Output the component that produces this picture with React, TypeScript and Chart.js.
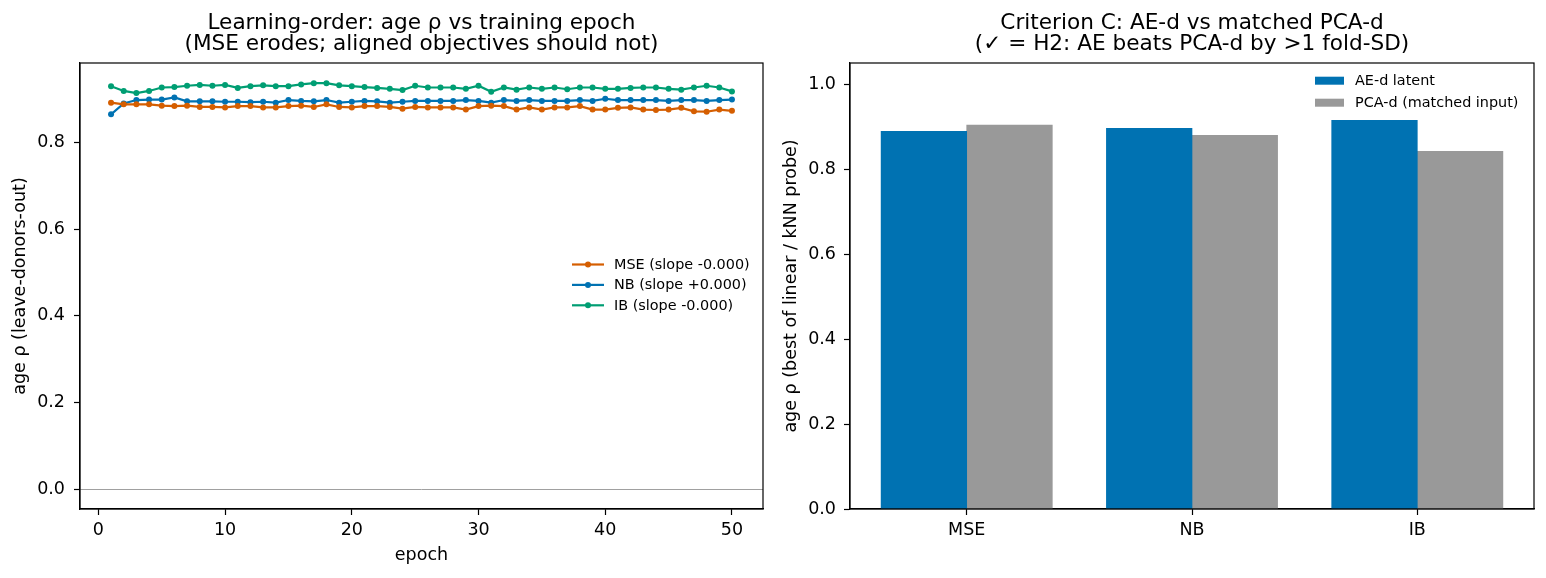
import React, { useEffect, useRef } from "react";
import { Chart, registerables } from "chart.js";

Chart.register(...registerables);

const FONT = "'DejaVu Sans', 'Noto Sans', sans-serif";

// ---------- Left panel data ----------
const epochs = [
  1, 2, 3, 4, 5, 6, 7, 8, 9, 10, 11, 12, 13, 14, 15, 16, 17, 18, 19, 20, 21, 22, 23, 24, 25,
  26, 27, 28, 29, 30, 31, 32, 33, 34, 35, 36, 37, 38, 39, 40, 41, 42, 43, 44, 45, 46, 47, 48, 49, 50,
];
const mseRho = [
  0.893, 0.889, 0.889, 0.889, 0.886, 0.885, 0.886, 0.883, 0.883, 0.882, 0.885, 0.885, 0.882, 0.882, 0.885,
  0.886, 0.883, 0.889, 0.883, 0.882, 0.885, 0.885, 0.883, 0.879, 0.883,
  0.882, 0.882, 0.882, 0.877, 0.885, 0.886, 0.885, 0.877, 0.882, 0.877, 0.882, 0.882, 0.885, 0.877, 0.877,
  0.881, 0.882, 0.877, 0.876, 0.877, 0.881, 0.873, 0.872, 0.877, 0.874,
];
const nbRho = [
  0.866, 0.891, 0.899, 0.9, 0.9, 0.905, 0.896, 0.896, 0.896, 0.895, 0.895, 0.894, 0.895, 0.893, 0.899,
  0.897, 0.896, 0.899, 0.893, 0.895, 0.897, 0.896, 0.893, 0.895, 0.897,
  0.897, 0.897, 0.897, 0.899, 0.897, 0.893, 0.899, 0.897, 0.899, 0.897, 0.897, 0.897, 0.899, 0.897, 0.902,
  0.899, 0.899, 0.899, 0.899, 0.897, 0.899, 0.899, 0.897, 0.899, 0.9,
];
const ibRho = [
  0.931, 0.92, 0.915, 0.92, 0.928, 0.929, 0.932, 0.934, 0.932, 0.934, 0.927, 0.931, 0.933, 0.931, 0.931,
  0.935, 0.938, 0.938, 0.933, 0.931, 0.929, 0.927, 0.925, 0.922, 0.932,
  0.928, 0.928, 0.928, 0.925, 0.932, 0.918, 0.928, 0.923, 0.928, 0.925, 0.928, 0.924, 0.928, 0.928, 0.925,
  0.925, 0.927, 0.928, 0.928, 0.925, 0.923, 0.928, 0.932, 0.928, 0.919,
];
const lineLabels = ["MSE (slope -0.000)", "NB (slope +0.000)", "IB (slope -0.000)"];
const lineColors = ["#D55E00", "#0072B2", "#009E73"];
const epochTicks = [0, 10, 20, 30, 40, 50];
const leftRhoTicks = [0.0, 0.2, 0.4, 0.6, 0.8];
const leftTitle = ["Learning-order: age \u03c1 vs training epoch", "(MSE erodes; aligned objectives should not)"];
const leftXLabel = "epoch";
const leftYLabel = "age \u03c1 (leave-donors-out)";

// ---------- Right panel data ----------
const methods = ["MSE", "NB", "IB"];
const aeRho = [0.889, 0.896, 0.915];
const pcaRho = [0.904, 0.88, 0.842];
const barLabels = ["AE-d latent", "PCA-d (matched input)"];
const barColors = ["#0072B2", "#999999"];
const rightRhoTicks = [0.0, 0.2, 0.4, 0.6, 0.8, 1.0];
const rightTitle = ["Criterion C: AE-d vs matched PCA-d", "(\u2713 = H2: AE beats PCA-d by >1 fold-SD)"];
const rightYLabel = "age \u03c1 (best of linear / kNN probe)";

const TICK_SIZE = 17.5;
const TITLE_SIZE = 21.6;
const LEGEND_SIZE = 14.4;

function drawTitleAndFrame(chart: any, title: string[], yLabel: string, yLabelX: number, xLabel?: string) {
  const { ctx, chartArea: a } = chart;
  ctx.save();
  ctx.strokeStyle = "#000";
  ctx.lineWidth = 1.2;
  ctx.strokeRect(a.left, a.top, a.right - a.left, a.bottom - a.top);
  ctx.fillStyle = "#000";
  ctx.textAlign = "center";
  ctx.textBaseline = "alphabetic";
  const cx = (a.left + a.right) / 2;
  ctx.font = `${TITLE_SIZE}px ${FONT}`;
  ctx.fillText(title[0], cx, 29);
  ctx.fillText(title[1], cx, 50);
  ctx.font = `${TICK_SIZE}px ${FONT}`;
  if (xLabel) ctx.fillText(xLabel, cx, 560);
  ctx.translate(yLabelX, (a.top + a.bottom) / 2);
  ctx.rotate(-Math.PI / 2);
  ctx.textBaseline = "middle";
  ctx.fillText(yLabel, 0, 0);
  ctx.restore();
}

const leftDecor = {
  id: "leftDecor",
  afterDraw(chart: any) {
    drawTitleAndFrame(chart, leftTitle, leftYLabel, 20, leftXLabel);
    const { ctx } = chart;
    ctx.save();
    ctx.font = `${LEGEND_SIZE}px ${FONT}`;
    ctx.textAlign = "left";
    ctx.textBaseline = "middle";
    lineLabels.forEach((lab, i) => {
      const y = 264.5 + i * 20.4;
      ctx.strokeStyle = lineColors[i];
      ctx.lineWidth = 2.2;
      ctx.beginPath();
      ctx.moveTo(572, y);
      ctx.lineTo(604, y);
      ctx.stroke();
      ctx.fillStyle = lineColors[i];
      ctx.beginPath();
      ctx.arc(588, y, 3, 0, Math.PI * 2);
      ctx.fill();
      ctx.fillStyle = "#000";
      ctx.fillText(lab, 614, y + 0.5);
    });
    ctx.restore();
  },
};

const rightDecor = {
  id: "rightDecor",
  afterDraw(chart: any) {
    drawTitleAndFrame(chart, rightTitle, rightYLabel, 18);
    const { ctx } = chart;
    ctx.save();
    ctx.font = `${LEGEND_SIZE}px ${FONT}`;
    ctx.textAlign = "left";
    ctx.textBaseline = "middle";
    barLabels.forEach((lab, i) => {
      const y = 80.7 + i * 22;
      ctx.fillStyle = barColors[i];
      ctx.fillRect(542, y - 4, 29, 8);
      ctx.fillStyle = "#000";
      ctx.fillText(lab, 582, y + 0.5);
    });
    ctx.restore();
  },
};

const axisCommon = (tickPad: number) => ({
  border: { display: true, color: "#000", width: 1.2 },
  ticks: {
    color: "#000",
    font: { family: FONT, size: TICK_SIZE },
    padding: tickPad,
    autoSkip: false,
    maxRotation: 0,
  },
});

export default function App() {
  const leftRef = useRef<HTMLCanvasElement>(null);
  const rightRef = useRef<HTMLCanvasElement>(null);

  useEffect(() => {
    const series = [mseRho, nbRho, ibRho];
    const left = new Chart(leftRef.current as HTMLCanvasElement, {
      type: "line",
      data: {
        datasets: series.map((vals, i) => ({
          label: lineLabels[i],
          data: epochs.map((e, j) => ({ x: e, y: vals[j] })),
          borderColor: lineColors[i],
          backgroundColor: lineColors[i],
          pointBackgroundColor: lineColors[i],
          pointBorderWidth: 0,
          pointRadius: 3,
          borderWidth: 2.2,
          tension: 0,
          fill: false,
        })),
      },
      options: {
        animation: false,
        responsive: false,
        maintainAspectRatio: false,
        events: [],
        layout: { padding: { top: 63, right: 10, left: 0, bottom: 0 } },
        plugins: { legend: { display: false }, title: { display: false }, tooltip: { enabled: false } },
        scales: {
          x: {
            type: "linear",
            min: -1.45,
            max: 52.45,
            offset: false,
            afterBuildTicks: (s: any) => {
              s.ticks = epochTicks.map((v) => ({ value: v }));
            },
            afterFit: (s: any) => {
              s.height = 69;
            },
            grid: { drawOnChartArea: false, drawTicks: true, tickLength: 6, tickColor: "#000", tickWidth: 1.2, offset: false },
            ...axisCommon(5),
            ticks: { ...axisCommon(5).ticks, callback: (v: any) => String(v) },
          },
          y: {
            type: "linear",
            min: -0.0462,
            max: 0.9846,
            afterBuildTicks: (s: any) => {
              s.ticks = leftRhoTicks.map((v) => ({ value: v }));
            },
            afterFit: (s: any) => {
              s.width = 80;
            },
            grid: {
              drawOnChartArea: true,
              color: (c: any) => (c.tick && Math.abs(c.tick.value) < 1e-9 ? "#a0a0a0" : "rgba(0,0,0,0)"),
              lineWidth: 1,
              drawTicks: true,
              tickLength: 6,
              tickColor: "#000",
              tickWidth: 1.2,
            },
            ...axisCommon(9),
            ticks: { ...axisCommon(9).ticks, callback: (v: any) => Number(v).toFixed(1) },
          },
        },
      },
      plugins: [leftDecor],
    } as any);

    const right = new Chart(rightRef.current as HTMLCanvasElement, {
      type: "bar",
      data: {
        datasets: [aeRho, pcaRho].map((vals, i) => ({
          label: barLabels[i],
          data: methods.map((_, j) => ({ x: j, y: vals[j] })),
          backgroundColor: barColors[i],
          borderWidth: 0,
          barThickness: 85.6,
        })),
      },
      options: {
        animation: false,
        responsive: false,
        maintainAspectRatio: false,
        events: [],
        layout: { padding: { top: 63, right: 12, left: 0, bottom: 0 } },
        plugins: { legend: { display: false }, title: { display: false }, tooltip: { enabled: false } },
        scales: {
          x: {
            type: "linear",
            min: -0.518,
            max: 2.518,
            offset: false,
            afterBuildTicks: (s: any) => {
              s.ticks = methods.map((_, j) => ({ value: j }));
            },
            afterFit: (s: any) => {
              s.height = 69;
            },
            grid: { drawOnChartArea: false, drawTicks: true, tickLength: 6, tickColor: "#000", tickWidth: 1.2, offset: false },
            ...axisCommon(5),
            ticks: { ...axisCommon(5).ticks, callback: (v: any) => methods[Math.round(Number(v))] },
          },
          y: {
            type: "linear",
            min: 0,
            max: 1.05,
            afterBuildTicks: (s: any) => {
              s.ticks = rightRhoTicks.map((v) => ({ value: v }));
            },
            afterFit: (s: any) => {
              s.width = 77;
            },
            grid: { drawOnChartArea: false, drawTicks: true, tickLength: 6, tickColor: "#000", tickWidth: 1.2 },
            ...axisCommon(8),
            ticks: { ...axisCommon(8).ticks, callback: (v: any) => Number(v).toFixed(1) },
          },
        },
      },
      plugins: [rightDecor],
    } as any);

    return () => {
      left.destroy();
      right.destroy();
    };
  }, []);

  return (
    <div style={{ position: "absolute", left: 0, top: 0, width: 1546, height: 578, background: "#fff" }}>
      <canvas
        ref={leftRef}
        width={773}
        height={578}
        style={{ position: "absolute", left: 0, top: 0, width: 773, height: 578 }}
      />
      <canvas
        ref={rightRef}
        width={773}
        height={578}
        style={{ position: "absolute", left: 773, top: 0, width: 773, height: 578 }}
      />
    </div>
  );
}
